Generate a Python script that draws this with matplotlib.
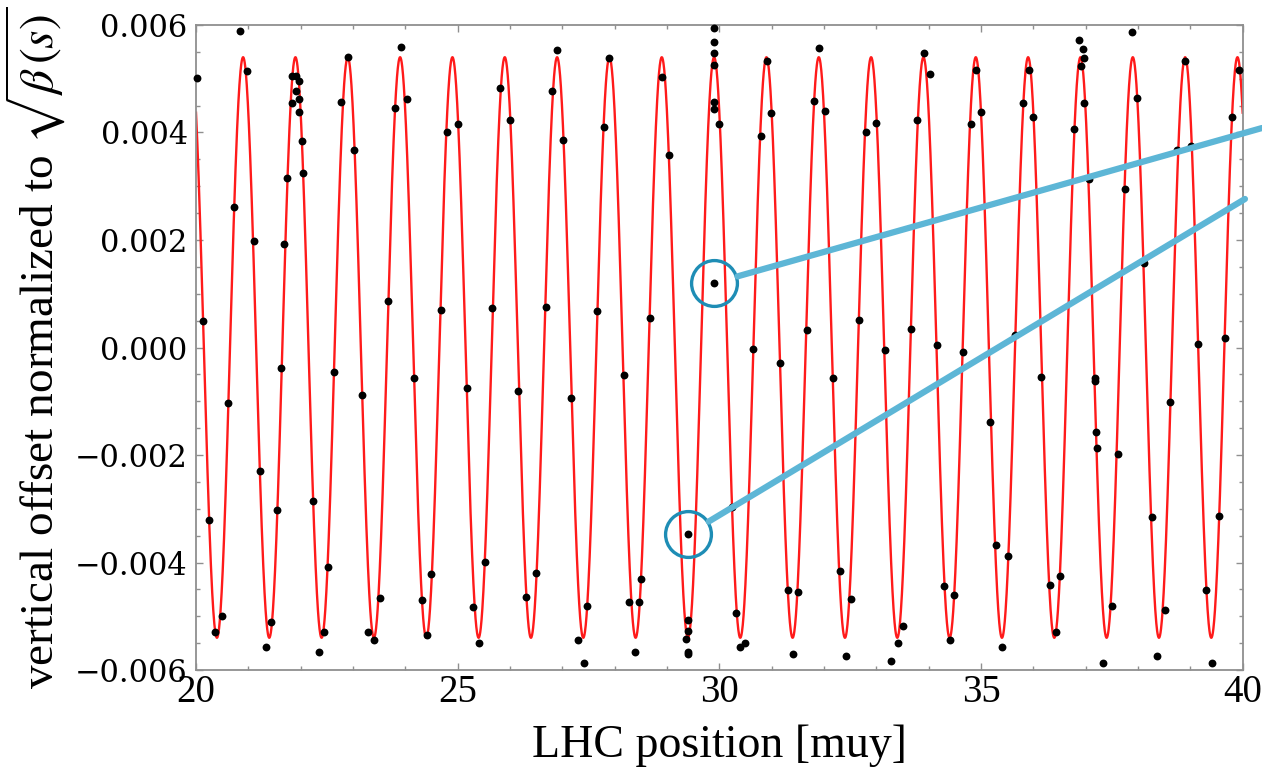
import numpy as np
import matplotlib
matplotlib.use("Agg")
import matplotlib.pyplot as plt
from matplotlib.ticker import MultipleLocator, FuncFormatter
import matplotlib.patheffects as pe

# ---- data ----
pos_x = [20.01, 20.13, 20.25, 20.37, 20.50, 20.62, 20.73, 20.85, 20.98, 21.10,
         21.22, 21.34, 21.43, 21.55, 21.63, 21.69, 21.74, 21.84, 21.84, 21.91,
         21.91, 21.96, 21.97, 21.96, 22.02, 22.05, 22.24, 22.36, 22.45, 22.53,
         22.64, 22.77, 22.91, 23.01, 23.17, 23.28, 23.41, 23.51, 23.67, 23.80,
         23.91, 24.03, 24.17, 24.31, 24.41, 24.50, 24.68, 24.79, 25.00, 25.17,
         25.29, 25.41, 25.52, 25.66, 25.80, 26.00, 26.16, 26.31, 26.50, 26.68,
         26.80, 26.90, 27.02, 27.16, 27.29, 27.42, 27.48, 27.66, 27.80, 27.90,
         28.17, 28.28, 28.39, 28.46, 28.50, 28.68, 28.91, 29.03, 29.37, 29.40,
         29.40, 29.41, 29.40, 29.40, 29.90, 29.90, 29.90, 29.90, 29.90, 29.90,
         29.90, 29.99, 30.24, 30.32, 30.40, 30.49, 30.64, 30.80, 30.92, 30.99,
         31.16, 31.31, 31.40, 31.50, 31.67, 31.80, 31.90, 32.01, 32.17, 32.30,
         32.42, 32.52, 32.66, 32.80, 33.00, 33.17, 33.28, 33.41, 33.50, 33.66,
         33.78, 33.92, 34.02, 34.15, 34.30, 34.40, 34.49, 34.66, 34.80, 34.90,
         35.00, 35.17, 35.29, 35.41, 35.51, 35.65, 35.80, 35.92, 35.99, 36.15,
         36.31, 36.43, 36.51, 36.78, 36.88, 36.94, 36.96, 36.91, 36.96, 37.06,
         37.17, 37.17, 37.19, 37.21, 37.34, 37.51, 37.61, 37.75, 37.88, 37.99,
         38.12, 38.26, 38.37, 38.52, 38.61, 38.75, 38.90, 39.01, 39.15, 39.30,
         39.42, 39.54, 39.66, 39.80, 39.92]
offset_y = [0.00502, 0.00050, -0.00321, -0.00529, -0.00500, -0.00104, 0.00261, 0.00589, 0.00514, 0.00198,
            -0.00229, -0.00558, -0.00510, -0.00302, -0.00038, 0.00193, 0.00316, 0.00505, 0.00455, 0.00505,
            0.00478, 0.00496, 0.00462, 0.00438, 0.00384, 0.00325, -0.00286, -0.00566, -0.00530, -0.00409,
            -0.00045, 0.00457, 0.00540, 0.00368, -0.00088, -0.00529, -0.00545, -0.00466, 0.00087, 0.00445,
            0.00559, 0.00462, -0.00057, -0.00469, -0.00534, -0.00422, 0.00070, 0.00401, 0.00415, -0.00076,
            -0.00483, -0.00550, -0.00399, 0.00073, 0.00483, 0.00424, -0.00081, -0.00465, -0.00420, 0.00075,
            0.00478, 0.00554, 0.00386, -0.00094, -0.00545, -0.00587, -0.00481, 0.00067, 0.00410, 0.00538,
            -0.00052, -0.00474, -0.00566, -0.00474, -0.00430, 0.00054, 0.00504, 0.00358, -0.00543, -0.00347,
            -0.00507, -0.00527, -0.00566, -0.00571, 0.00120, 0.00594, 0.00568, 0.00547, 0.00526, 0.00457,
            0.00443, 0.00415, -0.00297, -0.00493, -0.00557, -0.00550, -0.00002, 0.00394, 0.00533, 0.00436,
            -0.00029, -0.00451, -0.00571, -0.00455, 0.00033, 0.00459, 0.00557, 0.00440, -0.00057, -0.00415,
            -0.00573, -0.00467, 0.00052, 0.00401, 0.00417, -0.00004, -0.00583, -0.00550, -0.00519, 0.00035,
            0.00424, 0.00547, 0.00509, 0.00004, -0.00443, -0.00545, -0.00460, -0.00009, 0.00415, 0.00516,
            0.00438, -0.00139, -0.00368, -0.00557, -0.00387, 0.00024, 0.00455, 0.00516, 0.00429, -0.00055,
            -0.00441, -0.00529, -0.00425, 0.00406, 0.00572, 0.00555, 0.00538, 0.00524, 0.00455, 0.00314,
            -0.00056, -0.00063, -0.00158, -0.00187, -0.00587, -0.00481, -0.00198, 0.00295, 0.00587, 0.00465,
            0.00157, -0.00316, -0.00573, -0.00488, -0.00102, 0.00367, 0.00533, 0.00374, 0.00007, -0.00451,
            -0.00587, -0.00314, 0.00017, 0.00429, 0.00516]

# fitted betatron oscillation (red curve) parameters
fit_amplitude = 0.0054
fit_period = 1.0
fit_peak_at = 20.90

# highlighted (circled) outliers
highlight_x = [29.90, 29.40]
highlight_y = [0.00120, -0.00347]
# where the callout lines end (figure fraction)
callout_end_x = [1.000, 0.9865]
callout_end_y = [0.8344, 0.7426]

x_ticks = [20, 25, 30, 35, 40]
y_ticks = [-0.006, -0.004, -0.002, 0.000, 0.002, 0.004, 0.006]

# ---- figure ----
plt.rcParams['mathtext.fontset'] = 'stix'
fig = plt.figure(figsize=(12.62, 7.73), dpi=100)
ax = fig.add_axes([0.1553, 0.1332, 0.8294, 0.8345])

xs = np.linspace(20, 40, 4000)
ax.plot(xs, fit_amplitude * np.cos(2 * np.pi * (xs - fit_peak_at) / fit_period),
        color='#ff1a1a', lw=1.7, zorder=2)
ax.scatter(pos_x, offset_y, s=32, color='black', zorder=3, linewidths=0, clip_on=False)

ax.set_xlim(20, 40)
ax.set_ylim(-0.006, 0.006)
ax.set_xticks(x_ticks)
ax.set_yticks(y_ticks)
ax.xaxis.set_minor_locator(MultipleLocator(1))
ax.yaxis.set_minor_locator(MultipleLocator(0.0005))
ax.yaxis.set_major_formatter(FuncFormatter(
    lambda v, p: ('%.3f' % abs(v)) if abs(v) < 1e-9 or v > 0 else '\u2212%.3f' % abs(v)))

grey = '#8f8f8f'
for s in ax.spines.values():
    s.set_color(grey)
    s.set_linewidth(1.3)
ax.tick_params(which='both', direction='in', top=True, right=True, color=grey, width=1.0)
ax.tick_params(which='major', length=5)
ax.tick_params(which='minor', length=3)
ax.tick_params(axis='y', which='major', pad=6)
ax.tick_params(axis='x', which='major', pad=3)
for lab in ax.get_yticklabels():
    lab.set_family('DejaVu Serif')
    lab.set_fontsize(22)
for lab in ax.get_xticklabels():
    lab.set_family('Liberation Serif')
    lab.set_fontsize(28)

ax.set_xlabel('LHC position [muy]', family='Liberation Serif', fontsize=33)
ax.set_ylabel(r'vertical offset normalized to $\sqrt{\beta\,(s)}$', family='Liberation Serif', fontsize=34)
ax.xaxis.set_label_coords(0.5, -0.085)
ax.yaxis.set_label_coords(-0.122, 0.5)

# circles + callout lines
ax.plot(highlight_x, highlight_y, linestyle='none', marker='o', markersize=33,
        markerfacecolor='none', markeredgecolor='#1e8db5', markeredgewidth=2.4, zorder=5, clip_on=False)
for hx, hy, ex, ey in zip(highlight_x, highlight_y, callout_end_x, callout_end_y):
    ax.annotate('', xy=(hx, hy), xycoords='data', xytext=(ex, ey), textcoords='figure fraction',
                annotation_clip=False,
                arrowprops=dict(arrowstyle='-', color='#5db6d6', lw=4.5, shrinkA=0, shrinkB=17.5,
                                capstyle='round',
                                path_effects=[pe.withSimplePatchShadow(offset=(1.5, -2), alpha=0.25,
                                                                       shadow_rgbFace='#555555')]),
                zorder=6)

fig.savefig('out.png', dpi=100)
